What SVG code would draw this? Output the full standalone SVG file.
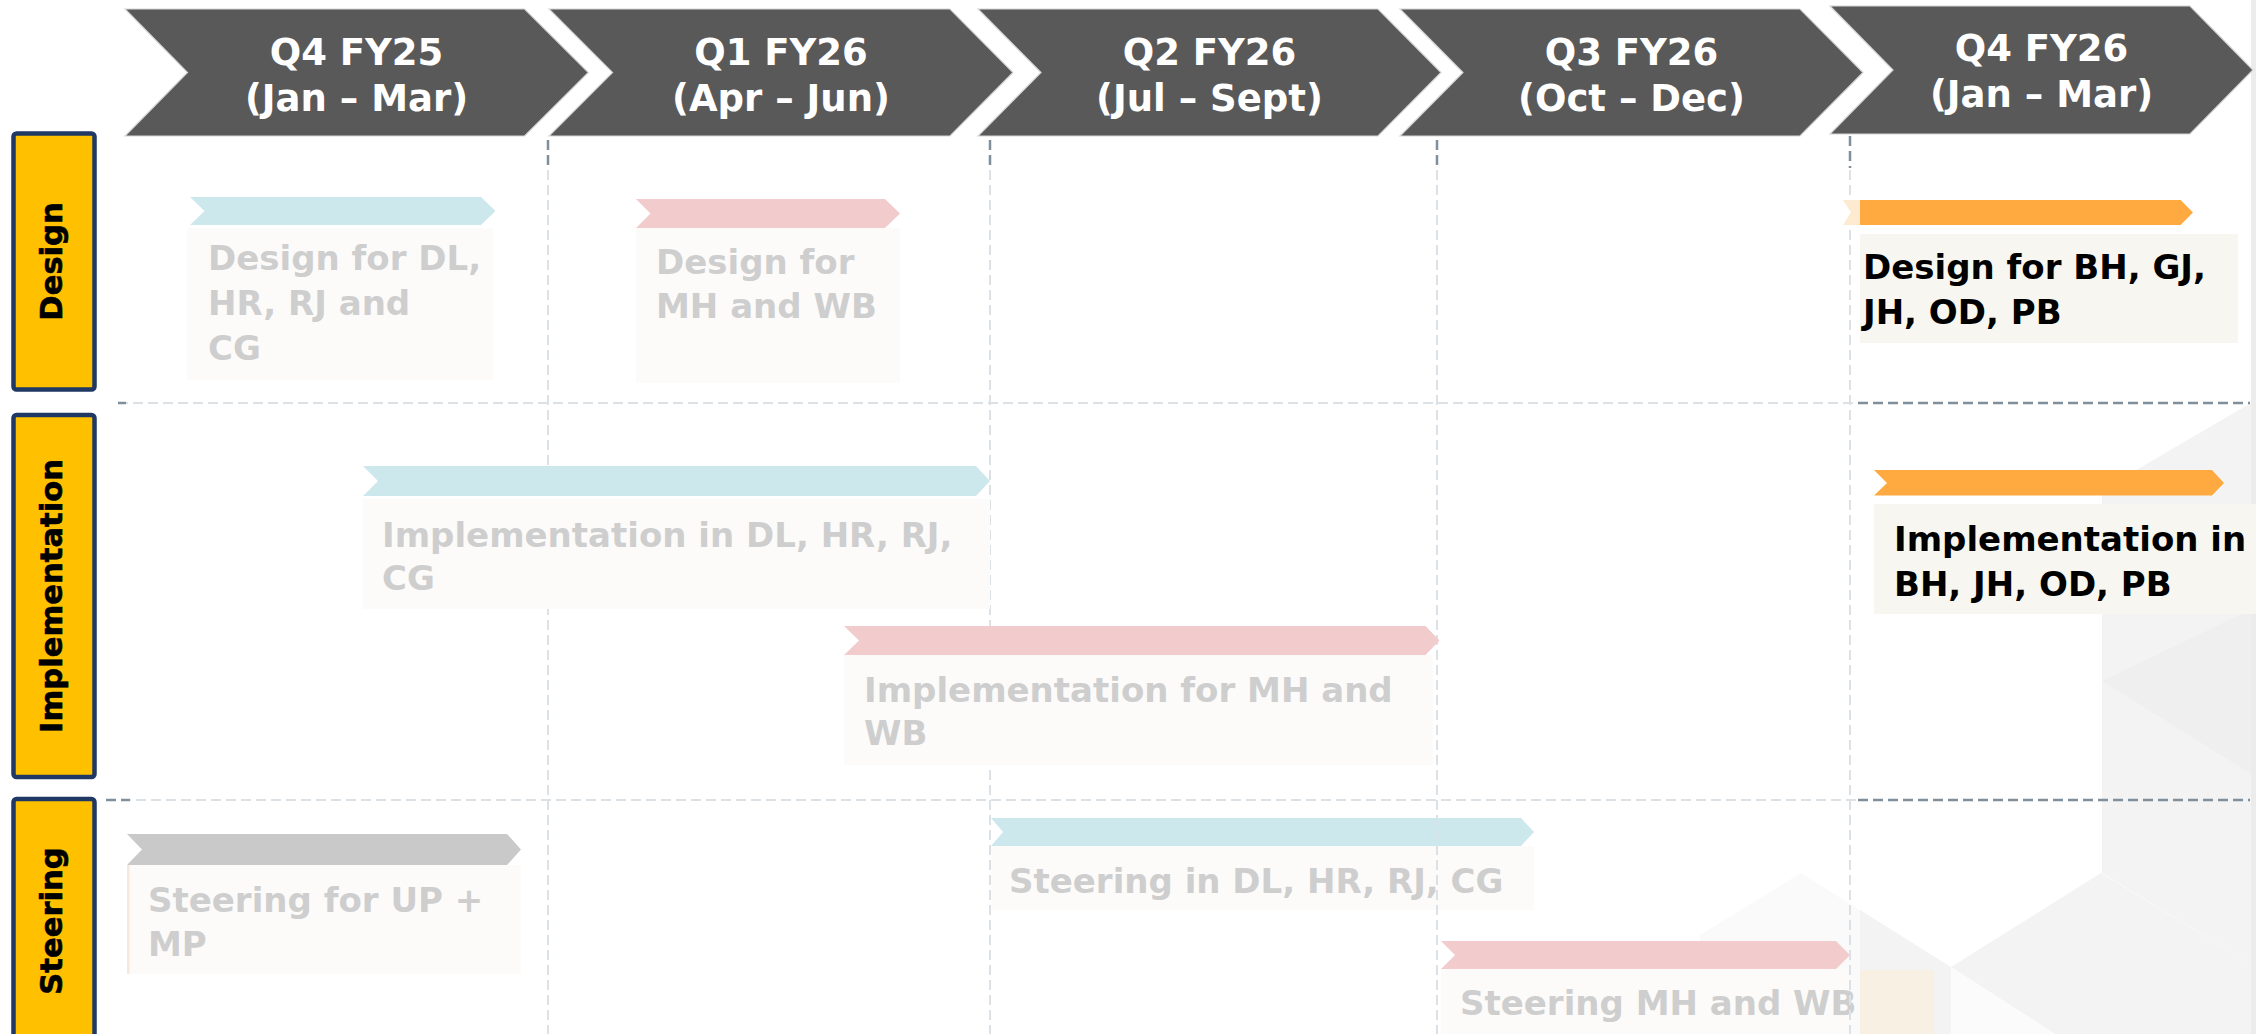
<svg xmlns="http://www.w3.org/2000/svg" width="2256" height="1034" viewBox="0 0 2256 1034">
  <defs>
    <style>
      .hdr { fill:#595959; stroke:#D6D6D6; stroke-width:1.2; }
      .hdr-t { font-family:"DejaVu Sans", Verdana, sans-serif; font-weight:bold; font-size:37px; fill:#FFFFFF; text-anchor:middle; }
      .lane { fill:#FFC000; stroke:#1F3864; stroke-width:4.5; }
      .lane-t { font-family:"DejaVu Sans", Verdana, sans-serif; font-weight:bold; font-size:30.6px; fill:#000000; stroke:#000000; stroke-width:0.6; text-anchor:middle; }
      .task-t { font-family:"DejaVu Sans", Verdana, sans-serif; font-weight:bold; font-size:34px; }
      .faded { fill:#CECECE; }
      .active { fill:#000000; }
      .box-faded { fill:#FCFBF9; }
      .box-active { fill:#F8F6F0; }
      .cyan { fill:#CDE8EC; }
      .pink { fill:#F2CBCC; }
      .grey { fill:#C9C9C9; }
      .orange { fill:#FFAA40; }
      .gl { stroke:#DCE1E6; stroke-width:2; stroke-dasharray:10 5; fill:none; }
      .gd { stroke:#7F8F9C; stroke-width:2.5; stroke-dasharray:10 5; fill:none; }
    </style>
  </defs>

  <rect x="0" y="0" width="2256" height="1034" fill="#FFFFFF"/>

  <!-- faint low-poly backdrop on the right -->
  <g id="backdrop">
    <polygon points="1801,873 1700,935 1700,1034 1860,1034 1860,910" fill="#FAFAFA"/>
    <polygon points="2256,400 2102,490 2102,873 2256,967" fill="#F3F3F3"/>
    <polygon points="2102,681 2256,607 2256,777" fill="#EFEFEF"/>
    <polygon points="2101,873 2256,967 2256,1034 2055,1034 1951,967" fill="#F3F3F3"/>
    <polygon points="1951,967 2055,1034 1951,1034" fill="#FBFBFB"/>
    <polygon points="1860,910 1951,967 1951,1034 1860,1034" fill="#F3F3F3"/>
    <rect x="2251" y="0" width="5" height="1034" fill="#ECECEC"/>
  </g>

  <!-- quarter header chevrons -->
  <g id="q4-fy25">
    <polygon class="hdr" points="125,9 524.6,9 588.4,72.5 524.6,136 125,136 187.5,72.5"/>
    <text class="hdr-t" x="356.5" y="65">Q4 FY25</text>
    <text class="hdr-t" x="356.5" y="111">(Jan – Mar)</text>
  </g>
  <g id="q1-fy26">
    <polygon class="hdr" points="549,9 950,9 1013,72.5 950,136 549,136 612.5,72.5"/>
    <text class="hdr-t" x="781" y="65">Q1 FY26</text>
    <text class="hdr-t" x="781" y="111">(Apr – Jun)</text>
  </g>
  <g id="q2-fy26">
    <polygon class="hdr" points="978,9 1378,9 1441,72.5 1378,136 978,136 1041,72.5"/>
    <text class="hdr-t" x="1209.5" y="65">Q2 FY26</text>
    <text class="hdr-t" x="1209.5" y="111">(Jul – Sept)</text>
  </g>
  <g id="q3-fy26">
    <polygon class="hdr" points="1400,9 1800,9 1863,72.5 1800,136 1400,136 1463,72.5"/>
    <text class="hdr-t" x="1631.5" y="65">Q3 FY26</text>
    <text class="hdr-t" x="1631.5" y="111">(Oct – Dec)</text>
  </g>
  <g id="q4-fy26">
    <polygon class="hdr" points="1830,6 2190,6 2253,70 2190,134 1830,134 1893,70"/>
    <text class="hdr-t" x="2041.5" y="61">Q4 FY26</text>
    <text class="hdr-t" x="2041.5" y="107">(Jan – Mar)</text>
  </g>

  <!-- swim-lane labels -->
  <g id="lane-design">
    <rect class="lane" x="13.5" y="133.5" width="81" height="256" rx="3"/>
    <text class="lane-t" transform="translate(62,261.5) rotate(-90)">Design</text>
  </g>
  <g id="lane-implementation">
    <rect class="lane" x="13.5" y="415" width="81" height="362" rx="3"/>
    <text class="lane-t" transform="translate(62,596) rotate(-90)">Implementation</text>
  </g>
  <g id="lane-steering">
    <rect class="lane" x="13.5" y="799" width="81" height="250" rx="3"/>
    <text class="lane-t" transform="translate(62,921) rotate(-90)">Steering</text>
  </g>

  <!-- tasks sitting beneath the grid -->
  <g id="task-steering-dl">
    <polygon class="cyan" points="991,818 1521,818 1534,832 1521,846 991,846 1003,832"/>
    <rect class="box-faded" x="991" y="846" width="543" height="64"/>
    <text class="task-t faded" x="1009" y="893">Steering in DL, HR, RJ, CG</text>
  </g>
  <g id="task-steering-mh">
    <polygon class="pink" points="1441,941 1836,941 1850,955 1836,969 1441,969 1455,955"/>
    <rect class="box-faded" x="1441" y="969" width="410" height="70"/>
    <text class="task-t faded" x="1460" y="1015">Steering MH and WB</text>
  </g>
  <rect id="steering-q4-box" x="1860" y="970" width="74" height="64" fill="#F8F0E3"/>

  <!-- quarter and lane grid -->
  <g id="grid">
    <line class="gl" x1="118" y1="403" x2="1858" y2="403"/>
    <line class="gd" x1="118" y1="403" x2="126" y2="403"/>
    <line class="gd" x1="1858" y1="403" x2="2250" y2="403"/>
    <line class="gl" x1="106" y1="800" x2="1858" y2="800"/>
    <line class="gd" x1="106" y1="800" x2="130" y2="800"/>
    <line class="gd" x1="1858" y1="800" x2="2250" y2="800"/>

    <line class="gd" x1="548" y1="140" x2="548" y2="168"/>
    <line class="gl" x1="548" y1="170" x2="548" y2="1034"/>
    <line class="gd" x1="990" y1="140" x2="990" y2="168"/>
    <line class="gl" x1="990" y1="170" x2="990" y2="1034"/>
    <line class="gd" x1="1437" y1="140" x2="1437" y2="168"/>
    <line class="gl" x1="1437" y1="170" x2="1437" y2="1034"/>
    <line class="gd" x1="1850" y1="136" x2="1850" y2="168"/>
    <line class="gl" x1="1850" y1="170" x2="1850" y2="1034"/>
  </g>

  <!-- Design lane -->
  <g id="task-design-dl">
    <polygon class="cyan" points="190,197 481,197 495.5,211 481,225 190,225 204.5,211"/>
    <rect class="box-faded" x="187" y="228" width="306" height="152"/>
    <text class="task-t faded" x="208" y="270">Design for DL,</text>
    <text class="task-t faded" x="208" y="315">HR, RJ and</text>
    <text class="task-t faded" x="208" y="360">CG</text>
  </g>
  <g id="task-design-mh">
    <polygon class="pink" points="636,199 885,199 900,213.5 885,228 636,228 650.5,213.5"/>
    <rect class="box-faded" x="636" y="228" width="264" height="155"/>
    <text class="task-t faded" x="656" y="274">Design for</text>
    <text class="task-t faded" x="656" y="318">MH and WB</text>
  </g>
  <g id="task-design-bh">
    <polygon points="1843,200 1860,200 1860,225 1843,225 1851,212.5" fill="#FEEAD0"/>
    <polygon class="orange" points="1860,200 2180.6,200 2193,212.5 2180.6,225 1860,225"/>
    <rect class="box-active" x="1860" y="234" width="378" height="109"/>
    <text class="task-t active" x="1863" y="279">Design for BH, GJ,</text>
    <text class="task-t active" x="1863" y="324">JH, OD, PB</text>
  </g>

  <!-- Implementation lane -->
  <g id="task-impl-dl">
    <polygon class="cyan" points="363,466 976,466 990,481 976,496 363,496 378,481"/>
    <rect class="box-faded" x="363" y="499" width="627" height="110"/>
    <text class="task-t faded" x="382" y="547">Implementation in DL, HR, RJ,</text>
    <text class="task-t faded" x="382" y="590">CG</text>
  </g>
  <g id="task-impl-mh">
    <polygon class="pink" points="844,626 1425.5,626 1439.5,640.5 1425.5,655 844,655 859,640.5"/>
    <rect class="box-faded" x="844" y="655" width="589" height="110"/>
    <text class="task-t faded" x="864" y="702">Implementation for MH and</text>
    <text class="task-t faded" x="864" y="745">WB</text>
  </g>
  <g id="task-impl-bh">
    <polygon class="orange" points="1874,470 2212,470 2224,483 2212,495.5 1874,495.5 1887,483"/>
    <rect class="box-active" x="1874" y="504" width="382" height="110"/>
    <text class="task-t active" x="1894" y="551">Implementation in</text>
    <text class="task-t active" x="1894" y="596">BH, JH, OD, PB</text>
  </g>

  <!-- Steering lane -->
  <g id="task-steering-up">
    <polygon class="grey" points="127,834 507,834 521,849.5 507,865 127,865 142,849.5"/>
    <rect class="box-faded" x="127" y="865" width="394" height="109"/>
    <rect x="127" y="865" width="2.5" height="109" fill="#F6E8DC"/>
    <text class="task-t faded" x="148" y="912">Steering for UP +</text>
    <text class="task-t faded" x="148" y="956">MP</text>
  </g>
</svg>
